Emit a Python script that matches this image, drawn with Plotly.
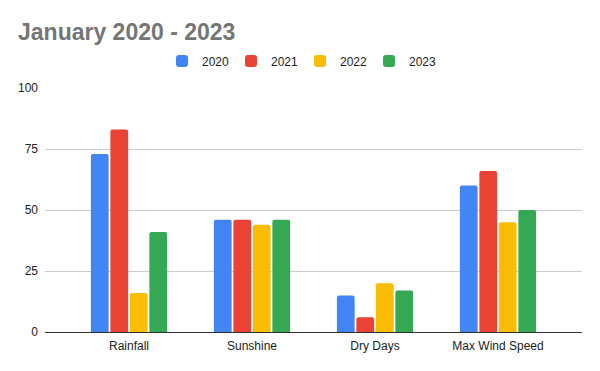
import plotly.graph_objects as go

categories = ["Rainfall", "Sunshine", "Dry Days", "Max Wind Speed"]
years = ["2020", "2021", "2022", "2023"]
values_2020 = [73, 46, 15, 60]
values_2021 = [83, 46, 6, 66]
values_2022 = [16, 44, 20, 45]
values_2023 = [41, 46, 17, 50]
colors = ["#4285F4", "#EA4335", "#FBBC04", "#34A853"]
y_ticks = [0, 25, 50, 75, 100]

series = [values_2020, values_2021, values_2022, values_2023]

fig = go.Figure()
for name, vals, col in zip(years, series, colors):
    fig.add_trace(go.Bar(x=categories, y=vals, name=name, marker_color=col,
                         marker_line_width=0))

fig.update_layout(
    width=600, height=371,
    margin=dict(l=45, r=18, t=88, b=39, autoexpand=False),
    paper_bgcolor="white", plot_bgcolor="white",
    barmode="group", bargap=0.366, bargroupgap=0.09, barcornerradius=2,
    font=dict(family="Liberation Sans, Arial, sans-serif", size=12, color="#222222"),
    title=dict(text="<b>January 2020 - 2023</b>", x=18/600, xanchor="left",
               xref="container", y=1-32/371, yref="container", yanchor="middle",
               automargin=False,
               font=dict(size=23, color="#757575", family="Liberation Sans, Arial, sans-serif")),
    legend=dict(orientation="h", x=0.5, xanchor="center", xref="container",
                y=1-61/371, yref="container", yanchor="middle",
                font=dict(size=12, color="#222222"), entrywidth=24, entrywidthmode="pixels",
                traceorder="normal"),
    showlegend=True,
)
fig.update_xaxes(showgrid=False, showline=True, linecolor="#333333", linewidth=1,
                 range=[-0.683, 3.683], ticks="", automargin=False,
                 ticklabelstandoff=3, tickfont=dict(size=12, color="#222222"))
fig.update_yaxes(range=[0, 100], tickvals=y_ticks, showgrid=True, gridcolor="#cccccc",
                 gridwidth=1, zeroline=False, showline=False, ticks="", automargin=False,
                 tickfont=dict(size=12, color="#222222"), ticklabelstandoff=6)

fig.write_html("out.html", config={"displayModeBar": False},
               post_script="document.body.style.margin='0';")
